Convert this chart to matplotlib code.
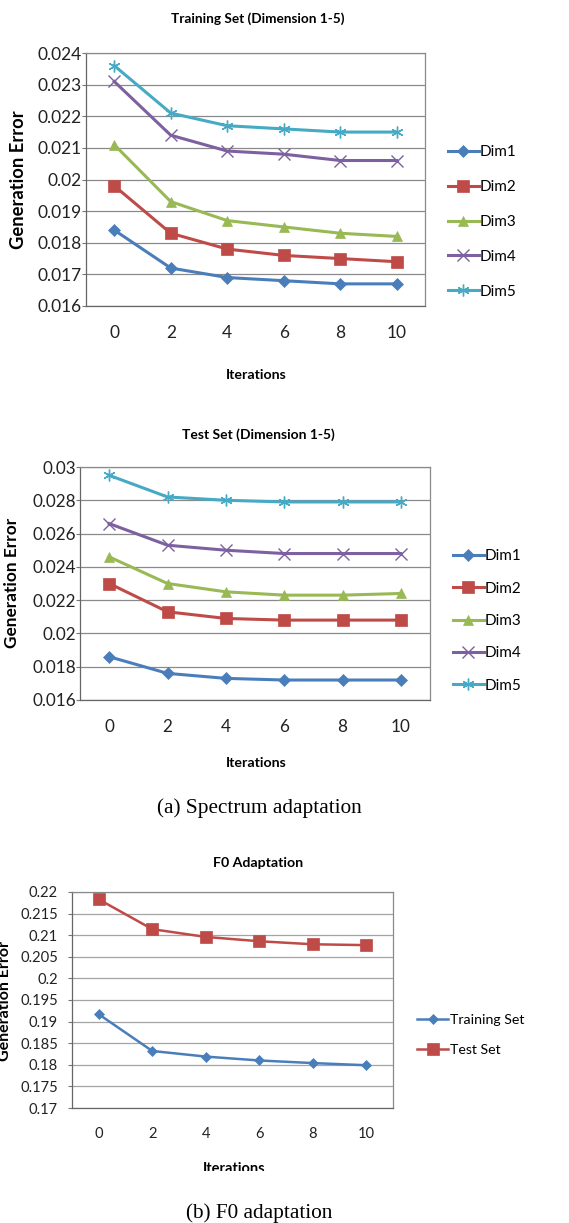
"""Generation error vs. adaptation iterations — spectrum (train/test) and F0."""

import matplotlib

matplotlib.use("Agg")
import matplotlib.pyplot as plt  # noqa: E402
from matplotlib.patches import Rectangle  # noqa: E402

W, H = 569, 1223

iterations = [0, 2, 4, 6, 8, 10]
dim_labels = ["Dim1", "Dim2", "Dim3", "Dim4", "Dim5"]

train_dim1 = [0.0184, 0.0172, 0.0169, 0.0168, 0.0167, 0.0167]
train_dim2 = [0.0198, 0.0183, 0.0178, 0.0176, 0.0175, 0.0174]
train_dim3 = [0.0211, 0.0193, 0.0187, 0.0185, 0.0183, 0.0182]
train_dim4 = [0.0231, 0.0214, 0.0209, 0.0208, 0.0206, 0.0206]
train_dim5 = [0.0236, 0.0221, 0.0217, 0.0216, 0.0215, 0.0215]

test_dim1 = [0.0186, 0.0176, 0.0173, 0.0172, 0.0172, 0.0172]
test_dim2 = [0.0230, 0.0213, 0.0209, 0.0208, 0.0208, 0.0208]
test_dim3 = [0.0246, 0.0230, 0.0225, 0.0223, 0.0223, 0.0224]
test_dim4 = [0.0266, 0.0253, 0.0250, 0.0248, 0.0248, 0.0248]
test_dim5 = [0.0295, 0.0282, 0.0280, 0.0279, 0.0279, 0.0279]

f0_labels = ["Training Set", "Test Set"]
f0_train = [0.1917, 0.1832, 0.1819, 0.1810, 0.1804, 0.1799]
f0_test = [0.2183, 0.2114, 0.2096, 0.2086, 0.2079, 0.2077]

train_yticks = [0.016, 0.017, 0.018, 0.019, 0.02, 0.021, 0.022, 0.023, 0.024]
test_yticks = [0.016, 0.018, 0.02, 0.022, 0.024, 0.026, 0.028, 0.03]
f0_yticks = [0.17, 0.175, 0.18, 0.185, 0.19, 0.195, 0.2, 0.205, 0.21, 0.215, 0.22]

# excel-2007 look
COLORS = ["#4A7EBB", "#BE4B48", "#98B954", "#7D60A0", "#46AAC5"]
MARKERS = ["D", "s", "^", "x", (6, 2, 0)]
MSIZES = [6.5, 8, 7.5, 8.5, 8.5]
FONT = ["Lato", "DejaVu Sans"]
SERIF = ["Liberation Serif", "DejaVu Serif"]

plt.rcParams["font.family"] = FONT
fig = plt.figure(figsize=(W / 100, H / 100), dpi=100)


def px_axes(left, top, right, bottom):
    return fig.add_axes([left / W, 1 - bottom / H, (right - left) / W, (bottom - top) / H])


def ftext(x, y, s, **kw):
    return fig.text(x / W, 1 - y / H, s, ha="center", va="center", **kw)


def style(ax, yticks, fsize, ypad, xpad, grid_color):
    ax.set_xlim(-1, 11)
    ax.set_ylim(yticks[0], yticks[-1])
    ax.set_xticks(iterations)
    ax.set_xticklabels([str(i) for i in iterations])
    ax.set_yticks(yticks)
    ax.set_yticklabels([f"{v:g}" for v in yticks])
    ax.tick_params(axis="x", length=0, pad=xpad, labelsize=fsize, labelcolor="#222222")
    ax.tick_params(axis="y", length=3, width=0.8, color="#777777", pad=ypad,
                   labelsize=fsize, labelcolor="#222222")
    ax.grid(axis="y", color=grid_color, lw=0.9, zorder=0)
    for side in ("top", "right"):
        ax.spines[side].set_color("#8a8a8a")
        ax.spines[side].set_linewidth(0.9)
    for side in ("left", "bottom"):
        ax.spines[side].set_color("#666666")
        ax.spines[side].set_linewidth(0.9)


def legend(ax, x, y, fsize, spacing, handlelen):
    ax.legend(loc="center left", bbox_to_anchor=(x / W, 1 - y / H),
              bbox_transform=fig.transFigure, frameon=False, fontsize=fsize,
              handlelength=handlelen, handletextpad=0.1, labelspacing=spacing,
              borderpad=0, borderaxespad=0)


# (a) spectrum, training set
ax1 = px_axes(86, 53, 425, 306)
for vals, lab, c, m, ms in zip([train_dim1, train_dim2, train_dim3, train_dim4, train_dim5],
                               dim_labels, COLORS, MARKERS, MSIZES):
    ax1.plot(iterations, vals, color=c, lw=2.2, marker=m, ms=ms, label=lab,
             mew=1.0 if m in ("x", (6, 2, 0)) else 0.5, zorder=3)
style(ax1, train_yticks, 12.5, 0, 14, "#8a8a8a")
legend(ax1, 448, 222, 11, 1.36, 2.0)
ftext(258, 19, "Training Set (Dimension 1-5)", fontsize=9.8, fontweight="bold")
ftext(256, 375, "Iterations", fontsize=10.2, fontweight="bold")
ftext(19, 180, "Generation Error", fontsize=13.2, fontweight="bold", rotation=90)

# (a) spectrum, test set
ax2 = px_axes(80, 467, 430, 700)
for vals, lab, c, m, ms in zip([test_dim1, test_dim2, test_dim3, test_dim4, test_dim5],
                               dim_labels, COLORS, MARKERS, MSIZES):
    ax2.plot(iterations, vals, color=c, lw=2.2, marker=m, ms=ms, label=lab,
             mew=1.0 if m in ("x", (6, 2, 0)) else 0.5, zorder=3)
style(ax2, test_yticks, 12.3, 0, 14, "#8a8a8a")
legend(ax2, 453, 621, 11, 1.2, 2.0)
ftext(258, 435, "Test Set (Dimension 1-5)", fontsize=10, fontweight="bold")
ftext(256, 763, "Iterations", fontsize=10.2, fontweight="bold")
ftext(12, 583, "Generation Error", fontsize=12.4, fontweight="bold", rotation=90)
ftext(259, 808, "(a) Spectrum adaptation", fontsize=15.3, family=SERIF)

# (b) F0
ax3 = px_axes(72, 892, 393, 1108)
ax3.plot(iterations, f0_train, color=COLORS[0], lw=1.8, marker="D", ms=5.5,
         mew=0.5, label=f0_labels[0], zorder=3)
ax3.plot(iterations, f0_test, color=COLORS[1], lw=1.8, marker="s", ms=8,
         mew=0.5, label=f0_labels[1], zorder=3)
style(ax3, f0_yticks, 10.6, 7, 14, "#a5a5a5")
legend(ax3, 417, 1035, 10.2, 1.23, 2.2)
ftext(258, 863, "F0 Adaptation", fontsize=10.2, fontweight="bold")
ftext(234, 1169, "Iterations", fontsize=10.5, fontweight="bold")
ftext(5, 1001, "Generation Error", fontsize=11.5, fontweight="bold", rotation=90)
# the bottom of the label is cut off in the source scan
fig.patches.append(Rectangle((150 / W, 1 - 1190 / H), 170 / W, 19.5 / H,
                             transform=fig.transFigure, facecolor="white",
                             edgecolor="none", zorder=5))
ftext(259, 1213, "(b) F0 adaptation", fontsize=15.3, family=SERIF)

fig.savefig("out.png", dpi=100)
plt.close(fig)
